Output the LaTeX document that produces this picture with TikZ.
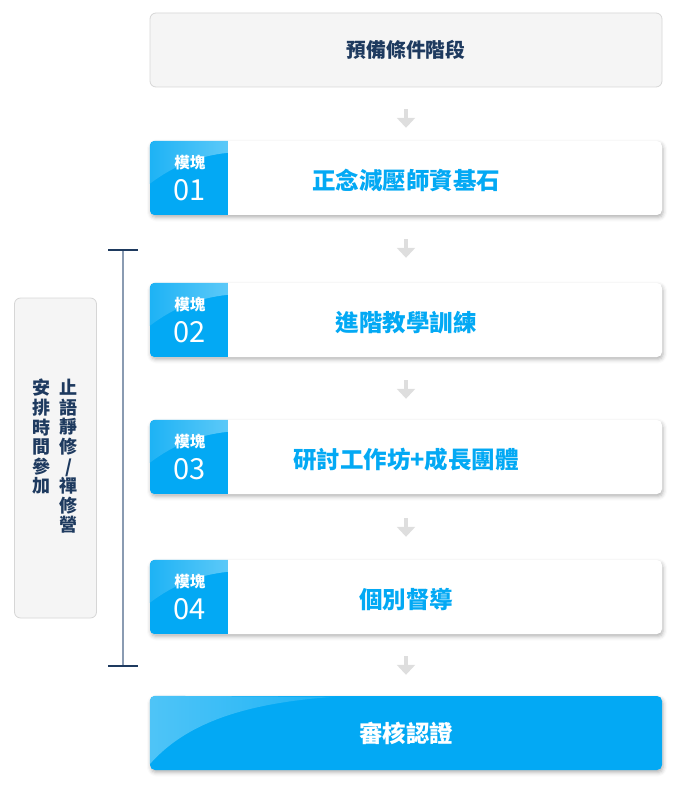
\documentclass[tikz,border=0pt]{standalone}
\usepackage{fontspec}
\setmainfont{Noto Sans CJK TC}
\usetikzlibrary{arrows.meta,shadows.blur}
\definecolor{mblue}{HTML}{03A9F4}
\definecolor{gloss}{HTML}{5CC9F8}
\definecolor{navy}{HTML}{1E3A5F}
\definecolor{paleg}{HTML}{F5F5F5}
\definecolor{borderg}{HTML}{D6D6D6}
\definecolor{arrowg}{HTML}{DEDEDE}
\definecolor{bgray}{HTML}{8A9BB2}
\tikzset{
  greybox/.style={draw=borderg, fill=paleg, rounded corners=6pt, line width=0.8pt, inner sep=0pt},
  modbox/.style={fill=white, rounded corners=5pt, minimum width=512pt, minimum height=74pt, inner sep=0pt,
     blur shadow={shadow xshift=1pt, shadow yshift=-2.5pt, shadow blur radius=4pt, shadow opacity=30}},
  finbox/.style={modbox, fill=mblue},
  titletext/.style={font=\fontsize{23.5}{26}\selectfont\bfseries, inner sep=0pt},
  tabsmall/.style={text=white, font=\fontsize{15.5}{18}\selectfont\bfseries, inner sep=0pt},
  tabnum/.style={text=white, font=\fontsize{29}{31}\selectfont, inner sep=0pt},
  flowarrow/.style={draw=arrowg, line width=4.8pt, -{Triangle[width=18pt,length=10pt]}},
  vtext/.style={text=navy, align=center, inner sep=0pt, font=\fontsize{18}{19.6}\selectfont\bfseries},
}
\begin{document}
\begin{tikzpicture}[x=1pt,y=-1pt]
\useasboundingbox (0,0) rectangle (675,786);
% top box
\node[greybox, minimum width=512pt, minimum height=74pt, text=navy, font=\fontsize{19.8}{22}\selectfont\bfseries] (pre) at (406,50) {預備條件階段};
% modules
\foreach \i/\y/\t in {1/178/正念減壓師資基石, 2/320/進階教學訓練, 3/457/研討工作坊+成長團體, 4/597/個別督導}{
  \node[modbox] (m\i) at (406,\y) {};
  \begin{scope}
    \clip[rounded corners=5pt] (m\i.north west) rectangle (m\i.south east);
    \fill[mblue] (m\i.north west) rectangle ([xshift=78pt]m\i.south west);
    \shade[left color=mblue!70!gloss, right color=gloss]
      ([yshift=-43pt]m\i.north west) .. controls ([xshift=25pt,yshift=-24pt]m\i.north west) and ([xshift=50pt,yshift=-15pt]m\i.north west) .. ([xshift=78pt,yshift=-12pt]m\i.north west)
      -- ([xshift=78pt]m\i.north west) -- (m\i.north west) -- cycle;
  \end{scope}
  \node[tabsmall] (ta\i) at ([xshift=40pt,yshift=-21.5pt]m\i.north west) {模塊};
  \node[tabnum] (tb\i) at ([xshift=39.5pt,yshift=-49pt]m\i.north west) {0\i};
  \node[titletext, text=mblue] (ti\i) at ([yshift=-2.5pt]m\i.center) {\t};
}
% final
\node[finbox] (fin) at (406,733) {};
\begin{scope}
  \clip[rounded corners=5pt] (fin.north west) rectangle (fin.south east);
  \shade[left color=gloss!85!mblue, right color=mblue!70!gloss]
    ([yshift=6pt]fin.south west) .. controls ([xshift=30pt,yshift=40pt]fin.south west) and ([xshift=80pt,yshift=-8pt]fin.north west) .. ([xshift=185pt,yshift=-1pt]fin.north west)
    -- (fin.north west) -- cycle;
\end{scope}
\node[titletext, text=white] (fint) at (fin.center) {審核認證};
% arrows
\draw[flowarrow, shorten <=22pt, shorten >=13pt] (pre) -- (m1);
\draw[flowarrow, shorten <=24pt, shorten >=25pt] (m1) -- (m2);
\draw[flowarrow, shorten <=23pt, shorten >=21pt] (m2) -- (m3);
\draw[flowarrow, shorten <=24pt, shorten >=23pt] (m3) -- (m4);
\draw[flowarrow, shorten <=22pt, shorten >=21pt] (m4) -- (fin);
% bracket
\coordinate (btop) at (123,250);
\coordinate (bbot) at (123,666);
\draw[bgray, line width=2pt] (btop) -- (bbot);
\draw[navy, line width=1.5pt] ([xshift=-15pt]btop) -- ([xshift=15pt]btop);
\draw[navy, line width=1.5pt] ([xshift=-15pt]bbot) -- ([xshift=15pt]bbot);
% side box
\node[greybox, minimum width=82pt, minimum height=320pt] (side) at (55.5,458) {};
\node[vtext, anchor=north] (c1) at (68.5,379) {止\\語\\靜\\修\\/\\禪\\修\\營};
\node[vtext, anchor=north] (c2) at (41.5,379) {安\\排\\時\\間\\參\\加};
\end{tikzpicture}
\end{document}
